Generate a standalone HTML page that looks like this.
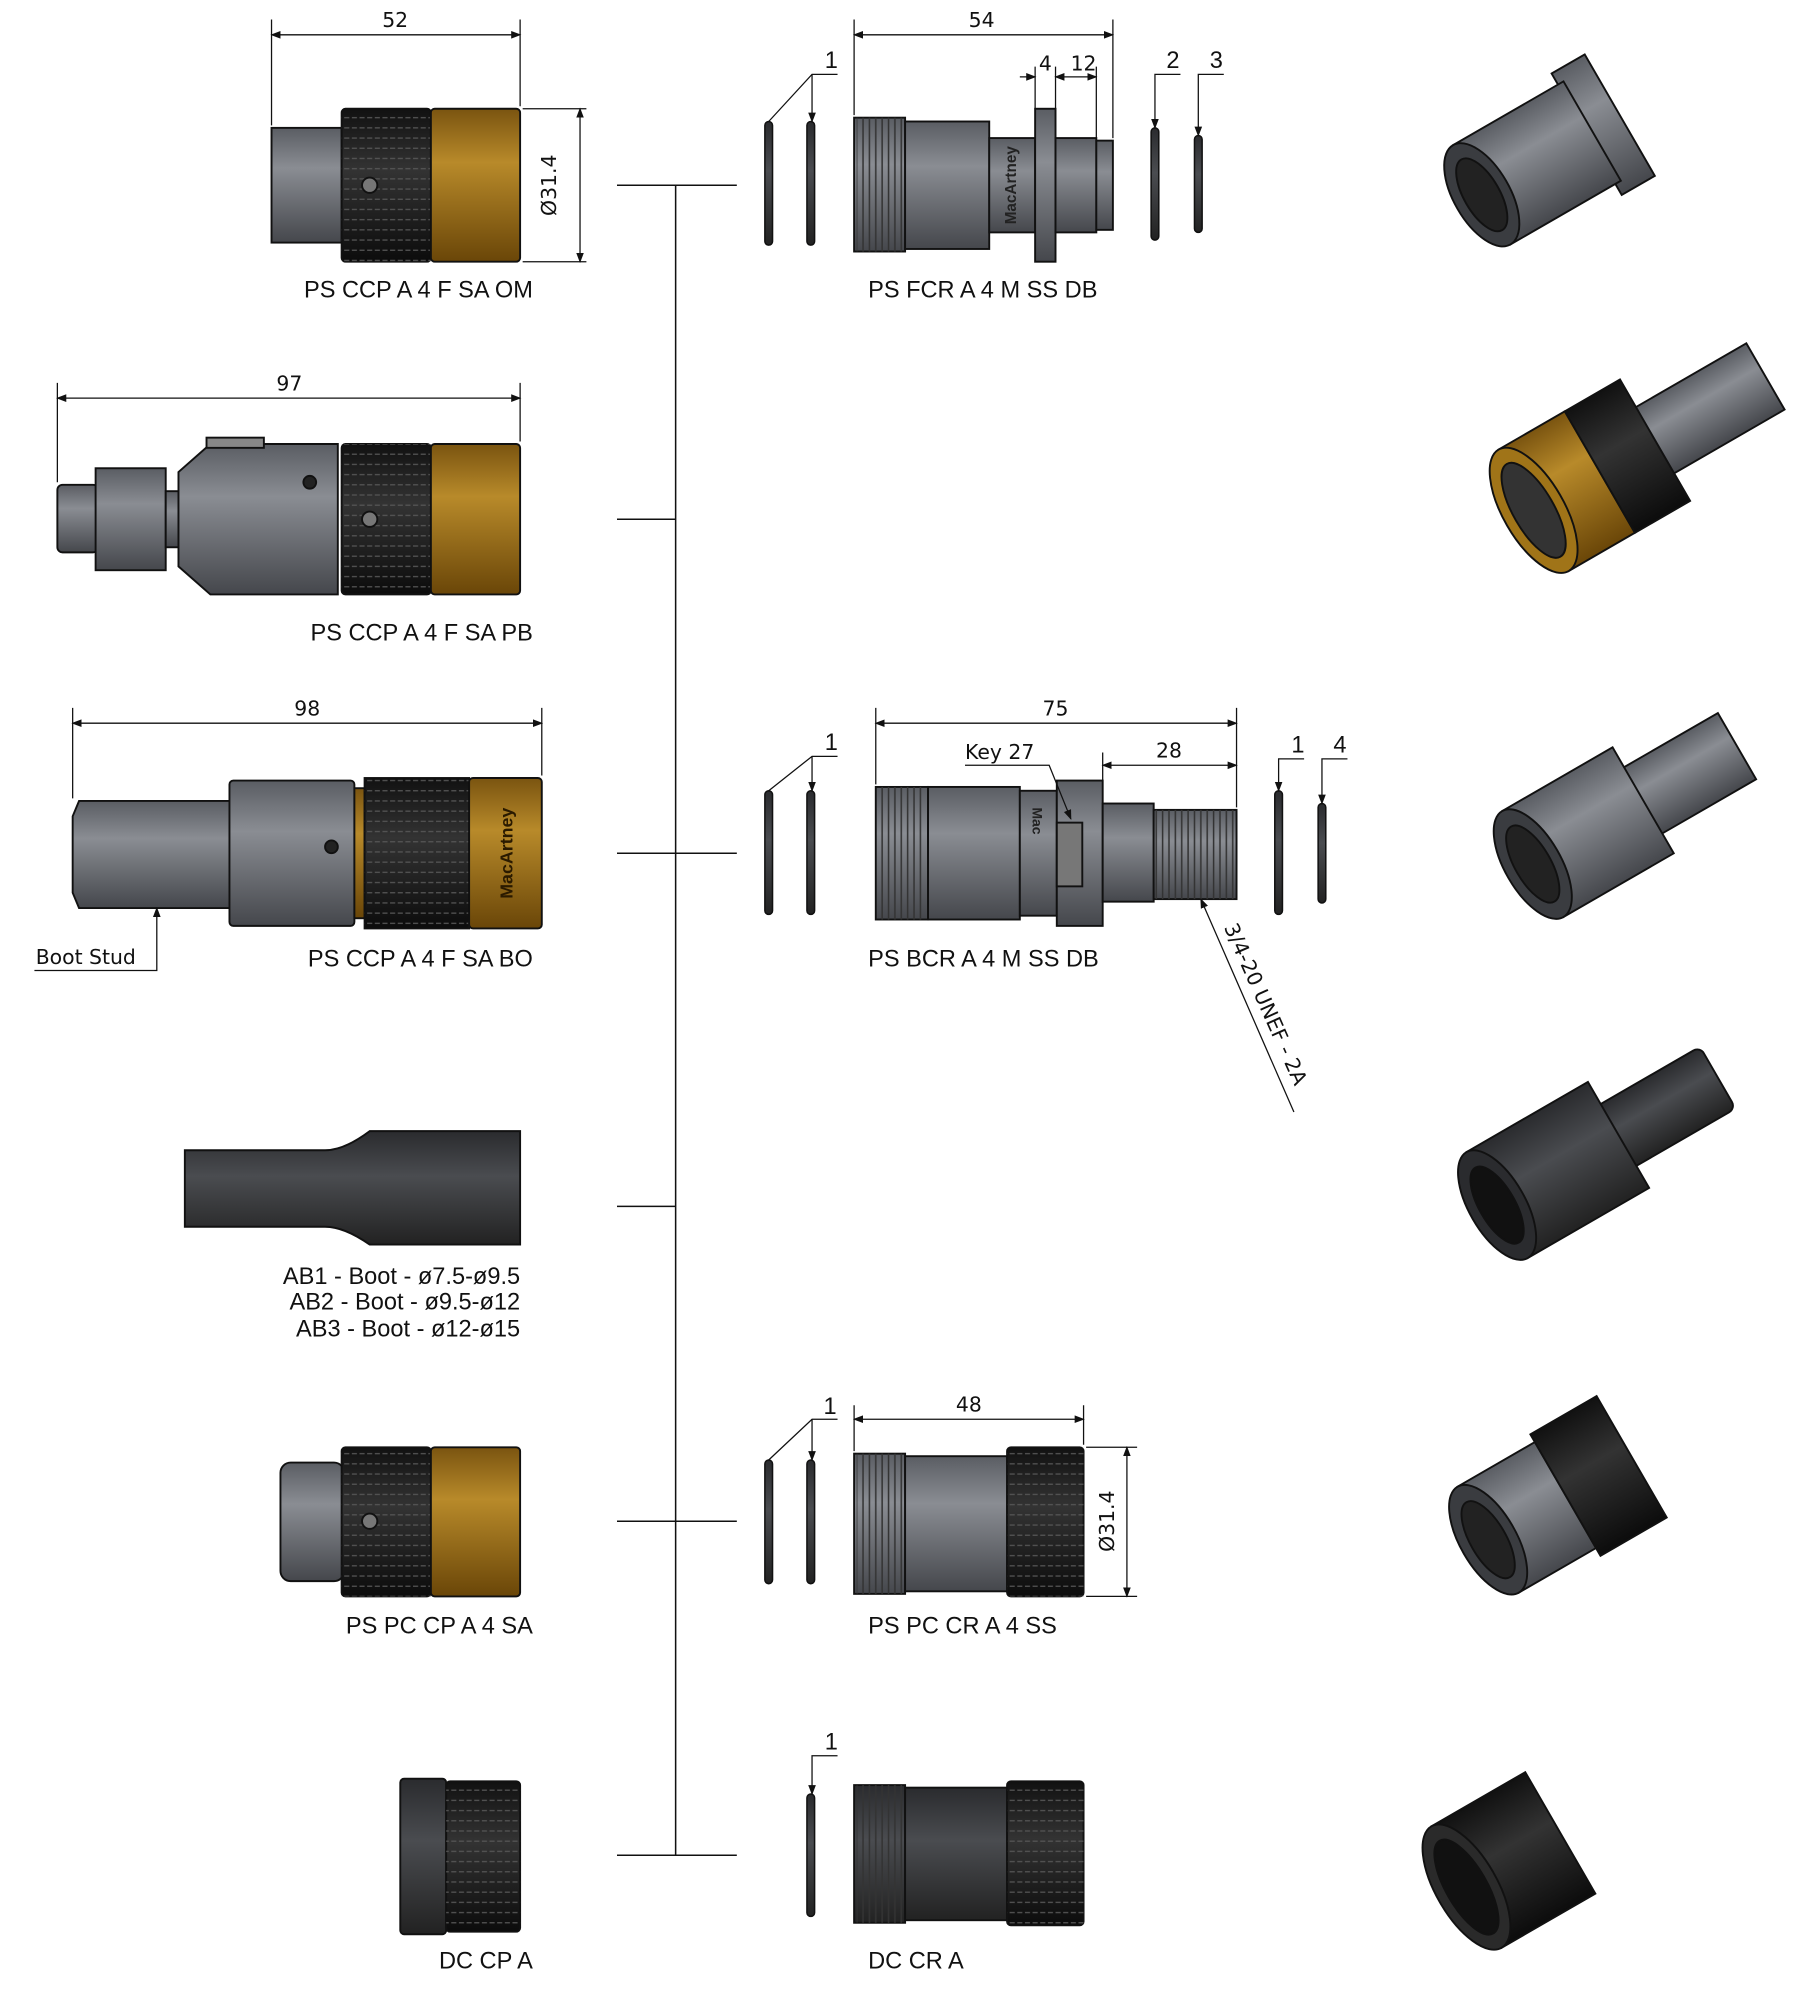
<!DOCTYPE html>
<html><head><meta charset="utf-8"><style>
html,body{margin:0;padding:0;background:#fff}
svg{display:block}
.l{font-family:"Liberation Sans",sans-serif;font-size:18.5px;fill:#111}
.d{font-family:"DejaVu Sans",sans-serif;font-size:16px;fill:#111}
</style></head><body>
<svg width="1800" height="1992" viewBox="0 0 1412 1562" xmlns="http://www.w3.org/2000/svg">
<defs>
<linearGradient id="g" x1="0" y1="0" x2="0" y2="1"><stop offset="0" stop-color="#5a5d63"/><stop offset=".35" stop-color="#8a8d93"/><stop offset="1" stop-color="#45474c"/></linearGradient>
<linearGradient id="au" x1="0" y1="0" x2="0" y2="1"><stop offset="0" stop-color="#7a5410"/><stop offset=".35" stop-color="#b88a2a"/><stop offset="1" stop-color="#6a4608"/></linearGradient>
<linearGradient id="bk" x1="0" y1="0" x2="0" y2="1"><stop offset="0" stop-color="#111"/><stop offset=".4" stop-color="#333"/><stop offset="1" stop-color="#0c0c0c"/></linearGradient>
<linearGradient id="dk" x1="0" y1="0" x2="0" y2="1"><stop offset="0" stop-color="#2a2b2e"/><stop offset=".4" stop-color="#4a4c50"/><stop offset="1" stop-color="#222"/></linearGradient>
<pattern id="kn" width="6" height="8" patternUnits="userSpaceOnUse"><path d="M0 4h4" stroke="#555" stroke-width="1"/></pattern>
<pattern id="th" width="5" height="10" patternUnits="userSpaceOnUse"><path d="M2 0v10" stroke="#333" stroke-width="1.2"/></pattern>
<marker id="ar" markerWidth="8" markerHeight="8" refX="7" refY="4" orient="auto-start-reverse"><path d="M0 1L8 4L0 7z" fill="#111"/></marker>
</defs>
<g stroke="#111" stroke-width="1.2" fill="none">
<path d="M530 145V1455M484 145H578M484 407H530M484 669H578M484 946H530M484 1193H578M484 1455H578"/>
</g>

<!-- C1 -->
<g stroke="#111" stroke-width="1.5">
<rect x="213" y="100" width="55" height="90" fill="url(#g)"/>
<rect x="268" y="85" width="70" height="120" rx="3" fill="url(#bk)"/>
<rect x="268" y="85" width="70" height="120" fill="url(#kn)" stroke="none"/>
<rect x="338" y="85" width="70" height="120" rx="3" fill="url(#au)"/>
<circle cx="290" cy="145" r="6" fill="#777"/>
</g>
<g stroke="#111" stroke-width="1" fill="none">
<path d="M213 15V98M408 15V83M410 85H460M410 205H460"/>
<path d="M213 27H408" marker-start="url(#ar)" marker-end="url(#ar)"/>
<path d="M455 85V205" marker-start="url(#ar)" marker-end="url(#ar)"/>
</g>
<text class="d" x="310" y="21" text-anchor="middle">52</text>
<text class="d" transform="translate(436 145) rotate(-90)" text-anchor="middle">Ø31.4</text>
<text class="l" x="418" y="233" text-anchor="end">PS CCP A 4 F SA OM</text>

<!-- C2 -->
<g stroke="#111" stroke-width="1.5">
<rect x="45" y="380" width="32" height="53" rx="4" fill="url(#g)"/>
<rect x="75" y="367" width="55" height="80" fill="url(#g)"/>
<rect x="130" y="385" width="10" height="44" fill="url(#g)"/>
<path d="M140 370L165 348H265V466H165L140 444Z" fill="url(#g)"/>
<rect x="162" y="343" width="45" height="8" fill="#888"/>
<rect x="268" y="348" width="70" height="118" rx="3" fill="url(#bk)"/>
<rect x="268" y="348" width="70" height="118" fill="url(#kn)" stroke="none"/>
<rect x="338" y="348" width="70" height="118" rx="3" fill="url(#au)"/>
<circle cx="243" cy="378" r="5" fill="#222"/><circle cx="290" cy="407" r="6" fill="#777"/>
</g>
<g stroke="#111" stroke-width="1" fill="none">
<path d="M45 300V378M408 300V346"/>
<path d="M45 312H408" marker-start="url(#ar)" marker-end="url(#ar)"/>
</g>
<text class="d" x="227" y="306" text-anchor="middle">97</text>
<text class="l" x="418" y="502" text-anchor="end">PS CCP A 4 F SA PB</text>

<!-- C3 -->
<g stroke="#111" stroke-width="1.5">
<path d="M62 628H180V712H62L57 700V640Z" fill="url(#g)"/>
<rect x="180" y="612" width="98" height="114" rx="3" fill="url(#g)"/>
<rect x="278" y="618" width="8" height="102" fill="url(#au)"/>
<rect x="286" y="610" width="82" height="118" fill="url(#bk)"/>
<rect x="286" y="610" width="82" height="118" fill="url(#kn)" stroke="none"/>
<rect x="368" y="610" width="57" height="118" rx="3" fill="url(#au)"/>
<circle cx="260" cy="664" r="5" fill="#222"/>
</g>
<text transform="translate(402 669) rotate(-90)" text-anchor="middle" font-family="Liberation Sans,sans-serif" font-weight="bold" font-size="14" fill="#2a1a00">MacArtney</text>
<g stroke="#111" stroke-width="1" fill="none">
<path d="M57 555V626M425 555V608"/>
<path d="M57 567H425" marker-start="url(#ar)" marker-end="url(#ar)"/>
<path d="M27 761H123V712" marker-end="url(#ar)"/>
</g>
<text class="d" x="241" y="561" text-anchor="middle">98</text>
<text class="d" x="28" y="756">Boot Stud</text>
<text class="l" x="418" y="758" text-anchor="end">PS CCP A 4 F SA BO</text>

<!-- Boot -->
<path d="M145 902H255Q270 902 290 887H408V976H290Q270 962 255 962H145Z" fill="url(#dk)" stroke="#111" stroke-width="1.5"/>
<text class="l" x="408" y="1007" text-anchor="end">AB1 - Boot - ø7.5-ø9.5</text>
<text class="l" x="408" y="1027" text-anchor="end">AB2 - Boot - ø9.5-ø12</text>
<text class="l" x="408" y="1048" text-anchor="end">AB3 - Boot - ø12-ø15</text>

<!-- C5 -->
<g stroke="#111" stroke-width="1.5">
<rect x="220" y="1147" width="50" height="93" rx="8" fill="url(#g)"/>
<rect x="268" y="1135" width="70" height="117" rx="3" fill="url(#bk)"/>
<rect x="268" y="1135" width="70" height="117" fill="url(#kn)" stroke="none"/>
<rect x="338" y="1135" width="70" height="117" rx="3" fill="url(#au)"/>
<circle cx="290" cy="1193" r="6" fill="#777"/>
</g>
<text class="l" x="418" y="1281" text-anchor="end">PS PC CP A 4 SA</text>

<!-- C6 -->
<g stroke="#111" stroke-width="1.5">
<rect x="314" y="1395" width="36" height="122" rx="3" fill="url(#dk)"/>
<rect x="350" y="1397" width="58" height="118" rx="3" fill="url(#bk)"/>
<rect x="350" y="1397" width="58" height="118" fill="url(#kn)" stroke="none"/>
</g>
<text class="l" x="418" y="1544" text-anchor="end">DC CP A</text>

<!-- pins -->
<g fill="url(#dk)" stroke="#111" stroke-width="1.2">
<rect x="600" y="95" width="6" height="97" rx="3"/><rect x="633" y="95" width="6" height="97" rx="3"/>
<rect x="903" y="100" width="6" height="88" rx="3"/><rect x="937" y="106" width="6" height="76" rx="3"/>
<rect x="600" y="620" width="6" height="97" rx="3"/><rect x="633" y="620" width="6" height="97" rx="3"/>
<rect x="1000" y="620" width="6" height="97" rx="3"/><rect x="1034" y="630" width="6" height="78" rx="3"/>
<rect x="600" y="1145" width="6" height="97" rx="3"/><rect x="633" y="1145" width="6" height="97" rx="3"/>
<rect x="633" y="1407" width="6" height="96" rx="3"/>
</g>
<g stroke="#111" stroke-width="1" fill="none">
<path d="M657 58H637L603 95"/><path d="M637 58V95" marker-end="url(#ar)"/>
<path d="M926 58H906V100" marker-end="url(#ar)"/><path d="M960 58H940V106" marker-end="url(#ar)"/>
<path d="M657 593H637L603 620"/><path d="M637 593V620" marker-end="url(#ar)"/>
<path d="M1023 595H1003V620" marker-end="url(#ar)"/><path d="M1057 595H1037V630" marker-end="url(#ar)"/>
<path d="M657 1113H637L603 1145"/><path d="M637 1113V1145" marker-end="url(#ar)"/>
<path d="M657 1377H637V1407" marker-end="url(#ar)"/>
</g>
<text class="l" x="647" y="53">1</text><text class="l" x="915" y="53">2</text><text class="l" x="949" y="53">3</text>
<text class="l" x="647" y="588">1</text><text class="l" x="1013" y="590">1</text><text class="l" x="1046" y="590">4</text>
<text class="l" x="646" y="1109">1</text><text class="l" x="647" y="1372">1</text>

<!-- FCR -->
<g stroke="#111" stroke-width="1.5">
<rect x="670" y="92" width="40" height="105" fill="url(#g)"/><rect x="672" y="92" width="36" height="105" fill="url(#th)" stroke="none"/>
<rect x="710" y="95" width="66" height="100" fill="url(#g)"/>
<rect x="776" y="108" width="36" height="74" fill="url(#g)"/>
<rect x="812" y="85" width="16" height="120" fill="url(#g)"/>
<rect x="828" y="108" width="32" height="74" fill="url(#g)"/>
<rect x="860" y="110" width="13" height="70" fill="url(#g)"/>
</g>
<text transform="translate(797 145) rotate(-90)" text-anchor="middle" font-family="Liberation Sans,sans-serif" font-weight="bold" font-size="12" fill="#222">MacArtney</text>
<g stroke="#111" stroke-width="1" fill="none">
<path d="M670 15V90M873 15V108M812 52V85M828 52V85M860 52V108"/>
<path d="M670 27H873" marker-start="url(#ar)" marker-end="url(#ar)"/>
<path d="M800 60H812" marker-end="url(#ar)"/>
<path d="M828 60H860" marker-start="url(#ar)" marker-end="url(#ar)"/>
</g>
<text class="d" x="770" y="21" text-anchor="middle">54</text><text class="d" x="820" y="55" text-anchor="middle">4</text><text class="d" x="850" y="55" text-anchor="middle">12</text>
<text class="l" x="681" y="233">PS FCR A 4 M SS DB</text>

<!-- BCR -->
<g stroke="#111" stroke-width="1.5">
<rect x="687" y="617" width="41" height="104" fill="url(#g)"/><rect x="689" y="617" width="37" height="104" fill="url(#th)" stroke="none"/>
<rect x="728" y="617" width="72" height="104" fill="url(#g)"/>
<rect x="800" y="620" width="29" height="98" fill="url(#g)"/>
<rect x="829" y="612" width="36" height="114" fill="url(#g)"/>
<rect x="829" y="645" width="20" height="50" fill="#777"/>
<rect x="865" y="630" width="40" height="77" fill="url(#g)"/>
<rect x="905" y="635" width="65" height="70" fill="url(#g)"/><rect x="905" y="635" width="65" height="70" fill="url(#th)" stroke="none"/>
</g>
<text transform="translate(810 633) rotate(90)" font-family="Liberation Sans,sans-serif" font-weight="bold" font-size="11" fill="#222">Mac</text>
<g stroke="#111" stroke-width="1" fill="none">
<path d="M687 555V615M970 555V633M865 590V628"/>
<path d="M687 567H970" marker-start="url(#ar)" marker-end="url(#ar)"/>
<path d="M865 600H970" marker-start="url(#ar)" marker-end="url(#ar)"/>
<path d="M757 600H823L840 642" marker-end="url(#ar)"/>
<path d="M1015 872L942 705" marker-end="url(#ar)"/>
</g>
<text class="d" x="828" y="561" text-anchor="middle">75</text><text class="d" x="917" y="594" text-anchor="middle">28</text>
<text class="d" x="757" y="595">Key 27</text>
<text class="d" transform="translate(960 727) rotate(66)">3/4-20 UNEF - 2A</text>
<text class="l" x="681" y="758">PS BCR A 4 M SS DB</text>

<!-- PC CR -->
<g stroke="#111" stroke-width="1.5">
<rect x="670" y="1140" width="40" height="110" fill="url(#g)"/><rect x="672" y="1140" width="36" height="110" fill="url(#th)" stroke="none"/>
<rect x="710" y="1142" width="80" height="106" fill="url(#g)"/>
<rect x="790" y="1135" width="60" height="117" rx="3" fill="url(#bk)"/><rect x="790" y="1135" width="60" height="117" fill="url(#kn)" stroke="none"/>
</g>
<g stroke="#111" stroke-width="1" fill="none">
<path d="M670 1102V1138M850 1102V1133M852 1135H892M852 1252H892"/>
<path d="M670 1113H850" marker-start="url(#ar)" marker-end="url(#ar)"/>
<path d="M884 1135V1252" marker-start="url(#ar)" marker-end="url(#ar)"/>
</g>
<text class="d" x="760" y="1107" text-anchor="middle">48</text>
<text class="d" transform="translate(874 1193) rotate(-90)" text-anchor="middle">Ø31.4</text>
<text class="l" x="681" y="1281">PS PC CR A 4 SS</text>

<!-- DC CR -->
<g stroke="#111" stroke-width="1.5">
<rect x="670" y="1400" width="40" height="108" fill="url(#dk)"/><rect x="672" y="1400" width="36" height="108" fill="url(#th)" stroke="none"/>
<rect x="710" y="1402" width="80" height="104" fill="url(#dk)"/>
<rect x="790" y="1397" width="60" height="113" rx="3" fill="url(#bk)"/><rect x="790" y="1397" width="60" height="113" fill="url(#kn)" stroke="none"/>
</g>
<text class="l" x="681" y="1544">DC CR A</text>

<!-- 3D views -->
<g stroke="#111" stroke-width="1.5">
<g transform="translate(1210 125) rotate(-30)">
<rect x="40" y="-55" width="30" height="110" fill="url(#g)"/>
<rect x="-55" y="-45" width="100" height="90" fill="url(#g)"/>
<ellipse cx="-55" cy="0" rx="22" ry="45" fill="#3a3c40"/><ellipse cx="-55" cy="0" rx="14" ry="32" fill="#222"/>
</g>
<g transform="translate(1255 370) rotate(-30)">
<rect x="40" y="-30" width="110" height="60" fill="url(#g)"/>
<rect x="-60" y="-55" width="60" height="110" fill="url(#au)"/>
<rect x="0" y="-55" width="50" height="110" fill="url(#bk)"/>
<ellipse cx="-60" cy="0" rx="24" ry="55" fill="#a07418"/><ellipse cx="-60" cy="0" rx="16" ry="42" fill="#333"/>
</g>
<g transform="translate(1250 650) rotate(-30)">
<rect x="40" y="-30" width="90" height="60" fill="url(#g)"/>
<rect x="-55" y="-48" width="100" height="96" fill="url(#g)"/>
<ellipse cx="-55" cy="0" rx="22" ry="48" fill="#3a3c40"/><ellipse cx="-55" cy="0" rx="14" ry="34" fill="#222"/>
</g>
<g transform="translate(1235 910) rotate(-30)">
<rect x="30" y="-28" width="100" height="56" rx="6" fill="url(#dk)"/>
<rect x="-70" y="-48" width="110" height="96" fill="url(#dk)"/>
<ellipse cx="-70" cy="0" rx="22" ry="48" fill="#2a2b2e"/><ellipse cx="-70" cy="0" rx="14" ry="34" fill="#111"/>
</g>
<g transform="translate(1215 1180) rotate(-30)">
<rect x="-55" y="-48" width="70" height="96" fill="url(#g)"/>
<rect x="15" y="-55" width="60" height="110" fill="url(#bk)"/>
<ellipse cx="-55" cy="0" rx="22" ry="48" fill="#3a3c40"/><ellipse cx="-55" cy="0" rx="14" ry="34" fill="#222"/>
</g>
<g transform="translate(1185 1460) rotate(-30)">
<rect x="-40" y="-55" width="85" height="110" fill="url(#bk)"/>
<ellipse cx="-40" cy="0" rx="24" ry="55" fill="#2a2a2a"/><ellipse cx="-40" cy="0" rx="16" ry="42" fill="#111"/>
</g>
</g>
</svg>
</body></html>
